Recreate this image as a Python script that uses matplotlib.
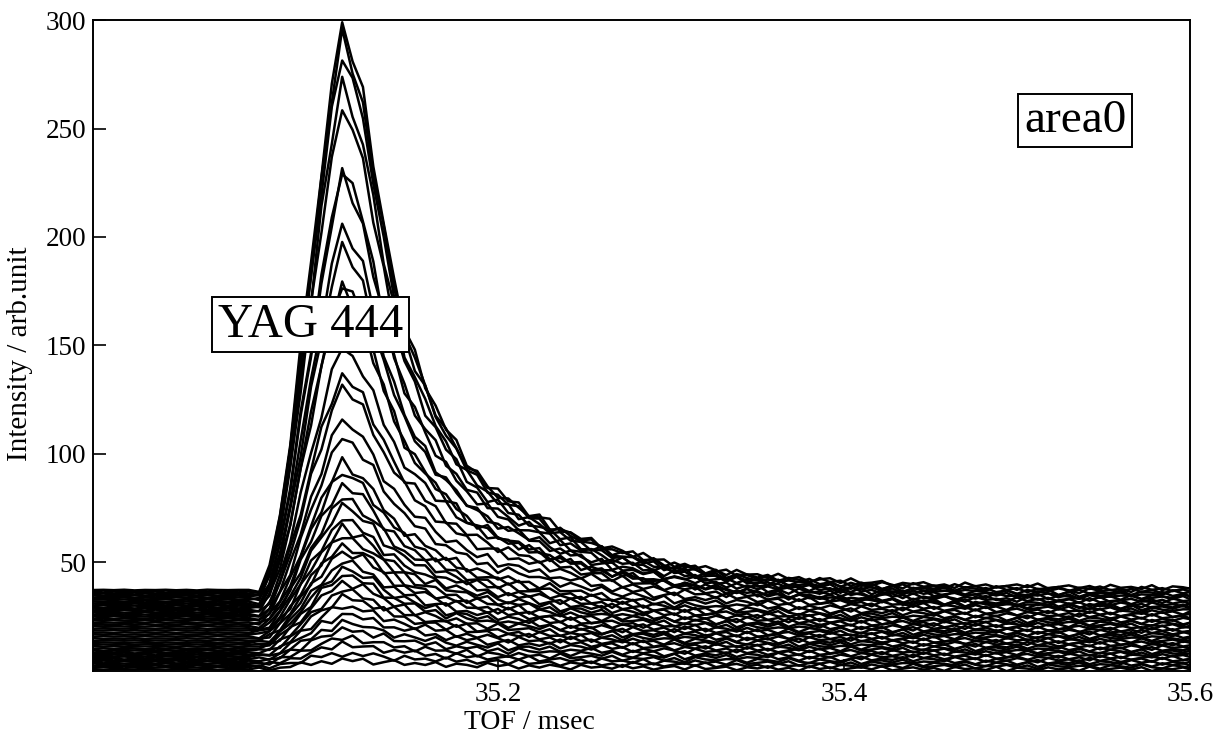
import numpy as np
import matplotlib.pyplot as plt

plt.rcParams['font.family'] = ['Liberation Serif', 'DejaVu Serif']

# TOF sampling grid (msec)
tof_start = 34.966
tof_step = 0.006

# normalised fast pulse shape (peak = 1 at ~35.110 msec)
fast_profile = [0, 0, 0, 0, 0, 0, 0, 0, 0, 0, 0, 0, 0, 0, 0, 0,
                0.0, 0.04, 0.13, 0.26, 0.42, 0.58, 0.74, 0.88, 1.00, 0.94,
                0.87, 0.76, 0.64, 0.54, 0.46, 0.41, 0.36, 0.32, 0.28, 0.25,
                0.22, 0.20, 0.185, 0.17, 0.155, 0.145, 0.135, 0.125, 0.115, 0.105,
                0.097, 0.090, 0.083, 0.077, 0.071, 0.066, 0.061, 0.056, 0.052, 0.048,
                0.045, 0.042, 0.039, 0.036, 0.033, 0.031, 0.029, 0.027, 0.025, 0.023,
                0.022, 0.020, 0.019, 0.018, 0.017, 0.016, 0.015, 0.014, 0.013, 0.012,
                0.012, 0.011, 0.010, 0.010, 0.009,
                0.009, 0.008, 0.008, 0.008, 0.007, 0.007, 0.007, 0.006, 0.006, 0.006,
                0.006, 0.006, 0.005, 0.005, 0.005, 0.005, 0.005, 0.005, 0.004, 0.004,
                0.004, 0.004, 0.004, 0.004, 0.004, 0.004]

# broad, slowly decaying component seen on the weaker traces
slow_profile = [0, 0, 0, 0, 0, 0, 0, 0, 0, 0, 0, 0, 0, 0, 0, 0, 0,
                0.05, 0.15, 0.30, 0.48, 0.65, 0.80, 0.92, 0.98, 1.00, 0.99,
                0.96, 0.93, 0.90, 0.87, 0.84, 0.81, 0.78, 0.75, 0.72, 0.69,
                0.66, 0.63, 0.60,
                0.58, 0.56, 0.54, 0.52, 0.50, 0.48, 0.46, 0.44, 0.42, 0.40,
                0.38, 0.37, 0.35, 0.34, 0.32, 0.31, 0.30, 0.29, 0.28, 0.27,
                0.26, 0.25, 0.24, 0.23, 0.22, 0.21, 0.20, 0.19, 0.18, 0.17,
                0.165, 0.16, 0.155, 0.15, 0.145, 0.14, 0.135, 0.13, 0.125, 0.12,
                0.115, 0.11, 0.105, 0.10, 0.098, 0.095, 0.092, 0.09, 0.087, 0.085,
                0.082, 0.08, 0.078, 0.076, 0.074, 0.072, 0.07, 0.068, 0.066, 0.064,
                0.062, 0.06, 0.058, 0.056, 0.054, 0.052, 0.05]

# per-trace baseline offsets, apex values and size of the slow component
baselines = [0.8, 1.8, 2.7, 3.6, 4.6, 5.5, 6.5, 7.4, 8.3, 9.3,
             10.2, 11.2, 12.1, 13.0, 14.0, 14.9, 15.9, 16.8, 17.7, 18.7,
             19.6, 20.6, 21.5, 22.4, 23.4, 24.3, 25.3, 26.2, 27.1, 28.1,
             29.0, 30.0, 30.9, 31.8, 32.8, 33.7, 34.6, 35.5, 36.4, 37.3]
peak_tops = [5, 8, 12, 15, 19, 22, 26, 30, 34, 37,
             41, 44, 47, 50, 55, 58, 62, 66, 70, 76,
             80, 86, 92, 96, 108, 116, 131, 137, 150, 177,
             180, 196, 206, 228, 232, 262, 272, 286, 293, 299]
slow_amps = [2, 3, 4, 5, 6, 7, 8, 9, 10, 10,
             11, 12, 12, 13, 14, 14, 15, 16, 16, 17,
             18, 18, 19, 20, 22, 24, 26, 28, 30, 20,
             18, 22, 16, 20, 12, 10, 8, 6, 4, 2]

# hand-typed wiggle table for the counting noise
jitter = [0.3, -0.8, 0.5, 0.1, -0.4, 0.9, -0.2, -0.7, 0.6, 0.0, -0.5, 0.8, -0.9, 0.2,
          0.4, -0.3, 0.7, -0.6, 0.1, -0.1, 0.9, -0.4, 0.3, -0.8, 0.5, -0.2, 0.6, -0.9,
          0.0, 0.8, -0.5, 0.2, -0.3, 0.7, -0.7, 0.4, 0.1, -0.6, 0.9, -0.1, 0.5, -0.8,
          0.3, -0.4, 0.6, 0.0, -0.9, 0.7, -0.2, 0.2, -0.5, 0.8, -0.3, 0.4, -0.7, 0.1,
          0.6, -0.6, 0.9, -0.4, 0.0, 0.5, -0.8, 0.3, -0.1, 0.7, -0.5, 0.2, -0.9, 0.8,
          -0.2, 0.4, -0.6, 0.1, 0.6, -0.3, 0.9, -0.7, 0.0, 0.5, -0.4, 0.3, -0.8, 0.7,
          -0.1, 0.2, -0.5, 0.8, -0.9, 0.4, 0.1, -0.6, 0.6, -0.2, 0.3, -0.7, 0.9, -0.4,
          0.0, 0.5, -0.3, 0.7, -0.8, 0.2, -0.1, 0.6, -0.5, 0.4, -0.9, 0.8, 0.1, -0.2, 0.3]

fast = np.array(fast_profile)
slow = np.array(slow_profile)
tof = tof_start + tof_step * np.arange(len(fast))
jit = np.array(jitter)
onset = (tof > 35.06).astype(float)

fig = plt.figure(figsize=(12.26, 7.41), dpi=100)
ax = fig.add_axes([0.0759, 0.0945, 0.8947, 0.8785])

for i, (b, top, sa) in enumerate(zip(baselines, peak_tops, slow_amps)):
    sig = (top - b - sa) * fast + sa * slow
    idx = (np.arange(len(tof)) + 17 * i) % len(jit)
    noise = jit[idx] * (0.2 + onset * (0.9 + 0.25 * np.sqrt(sig)))
    ax.plot(tof, b + sig + noise, color='black', lw=1.8)

ax.set_xlim(34.966, 35.6)
ax.set_ylim(0, 300)
ax.set_xticks([35.2, 35.4, 35.6])
ax.set_yticks([50, 100, 150, 200, 250, 300])
ax.tick_params(direction='in', length=9, width=1.2, labelsize=19.5, pad=5)
ax.tick_params(axis='x', pad=8)
for s in ax.spines.values():
    s.set_linewidth(1.4)

ax.set_xlabel('TOF / msec', fontsize=20)
ax.xaxis.set_label_coords(0.398, -0.06)
ax.xaxis.label.set_va('top')
ax.set_ylabel('Intensity / arb.unit', fontsize=21)
ax.yaxis.set_label_coords(-0.055, 0.487)

box = dict(boxstyle='square,pad=0.12', facecolor='white', edgecolor='black', lw=1.4)
ax.text(35.0915, 159.6, 'YAG 444', fontsize=35, ha='center', va='center', bbox=box, zorder=5)
ax.text(35.5336, 253.7, 'area0', fontsize=34, ha='center', va='center', bbox=box, zorder=5)

plt.savefig('out.png', dpi=100)
